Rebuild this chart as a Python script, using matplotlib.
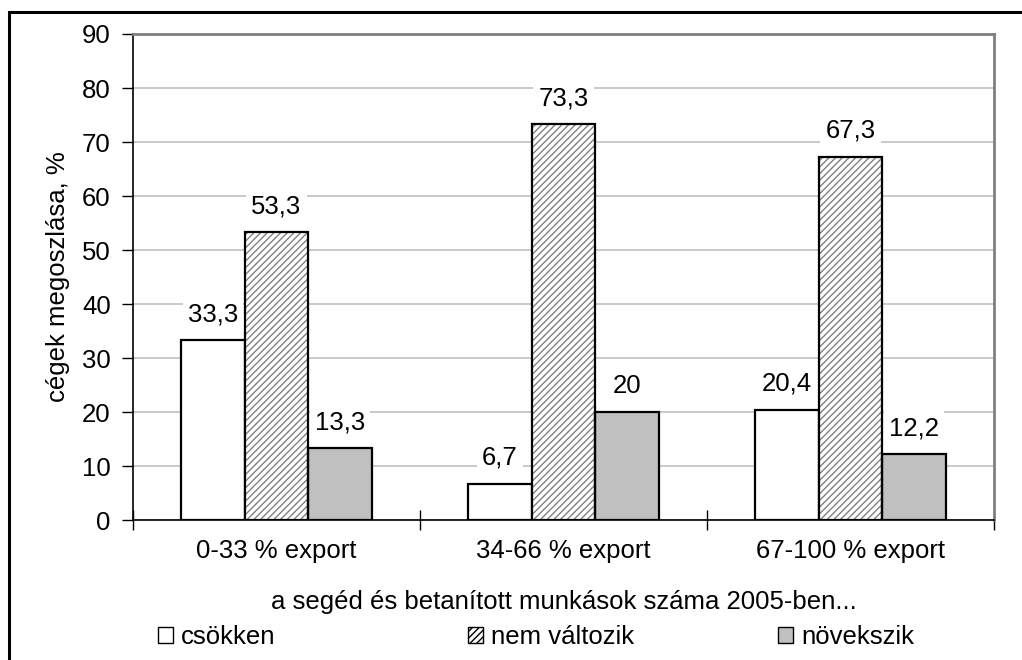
import numpy as np
import matplotlib
matplotlib.use("Agg")
import matplotlib.pyplot as plt
from matplotlib.patches import Rectangle

plt.rcParams['font.family'] = ['Liberation Sans', 'DejaVu Sans']
plt.rcParams['hatch.linewidth'] = 1.0

# adatok
categories = ["0-33 % export", "34-66 % export", "67-100 % export"]
series_names = ["csökken", "nem változik", "növekszik"]
csokken = [33.3, 6.7, 20.4]
nem_valtozik = [53.3, 73.3, 67.3]
novekszik = [13.3, 20, 12.2]
series_values = [csokken, nem_valtozik, novekszik]
y_ticks = [0, 10, 20, 30, 40, 50, 60, 70, 80, 90]

# stílusok
face_colors = ["white", "white", "#c0c0c0"]
hatches = [None, "/////", None]
fs = 18.5

fig = plt.figure(figsize=(10.22, 6.6), dpi=100)
ax = fig.add_axes([133 / 1022, 1 - 520 / 660, (994 - 133) / 1022, (520 - 34) / 660])

x = np.arange(len(categories)) + 0.5
width = 0.222
for i, vals in enumerate(series_values):
    pos = x + (i - 1) * width
    if hatches[i]:
        ax.bar(pos, vals, width, color=face_colors[i], edgecolor="#808080",
               hatch=hatches[i], linewidth=0, zorder=3)
        ax.bar(pos, vals, width, fill=False, edgecolor="black", linewidth=1.6, zorder=4)
    else:
        ax.bar(pos, vals, width, color=face_colors[i], edgecolor="black",
               linewidth=1.6, zorder=3)
    for px, v in zip(pos, vals):
        ax.annotate(f"{v:g}".replace(".", ","), (px, v), xytext=(0, 10),
                    textcoords="offset points", ha="center", va="bottom",
                    fontsize=fs, zorder=5,
                    bbox=dict(boxstyle="square,pad=0.2", fc="white", ec="none"))

ax.set_xlim(0, 3)
ax.set_ylim(0, 90)
ax.set_yticks(y_ticks)
ax.yaxis.grid(True, color="#c0c0c0", linewidth=1.2, zorder=0)
ax.set_axisbelow(True)

ax.set_xticks([0, 1, 2, 3])
ax.set_xticklabels([])
ax.set_xticks(x, minor=True)
ax.set_xticklabels(categories, minor=True, fontsize=fs)
ax.tick_params(axis="x", which="major", direction="inout", length=15, width=1)
ax.tick_params(axis="x", which="minor", length=0, pad=14)
ax.tick_params(axis="y", direction="out", length=8, width=1, pad=8, labelsize=fs)

for s in ["top", "right"]:
    ax.spines[s].set_color("#808080")
    ax.spines[s].set_linewidth(2)
for s in ["left", "bottom"]:
    ax.spines[s].set_color("black")
    ax.spines[s].set_linewidth(1.2)

ax.set_ylabel("cégek megoszlása, %", fontsize=fs, labelpad=9)
fig.text(563.5 / 1022, 1 - 602 / 660, "a segéd és betanított munkások száma 2005-ben...",
         ha="center", va="center", fontsize=fs)

# jelmagyarázat: három külön elem, egyenlő távolságra
legend_x = [158, 468, 778]
for i, name in enumerate(series_names):
    h = Rectangle((0, 0), 1, 1, facecolor=face_colors[i], edgecolor="black",
                  hatch=hatches[i], linewidth=1)
    leg = fig.legend([h], [name], loc="center left",
                     bbox_to_anchor=(legend_x[i] / 1022, 1 - 637 / 660),
                     frameon=False, fontsize=fs, handlelength=0.6, handleheight=0.6,
                     handletextpad=0.3, borderpad=0, borderaxespad=0)

# külső keret
fig.patches.append(Rectangle((9 / 1022, -0.1), 1.2, 1.1 - 12 / 660,
                             transform=fig.transFigure, fill=False,
                             edgecolor="black", linewidth=2.2, zorder=10))

fig.savefig("out.png", dpi=100)
